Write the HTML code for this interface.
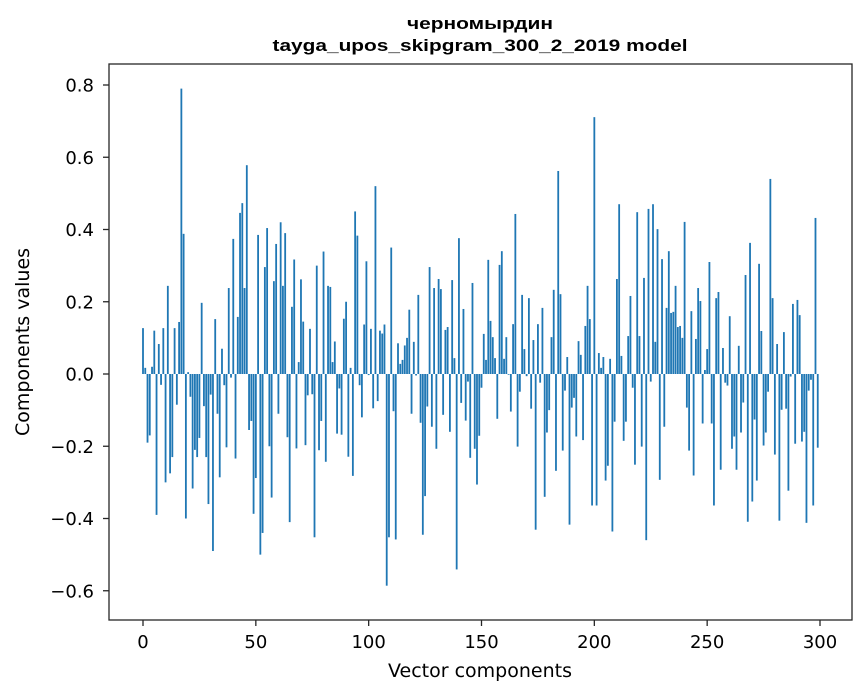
<!DOCTYPE html>
<html><head><meta charset="utf-8">
<style>
html,body{margin:0;padding:0;background:#fff;}
svg{display:block;font-family:"DejaVu Sans","Liberation Sans",sans-serif;}
.ttl{font-family:"Liberation Sans","DejaVu Sans",sans-serif;font-weight:bold;}
</style></head>
<body>
<svg id="chart" width="867" height="696" viewBox="0 0 867 696" xmlns="http://www.w3.org/2000/svg">
<text class="ttl" x="480" y="29" text-anchor="middle" font-size="17" textLength="146" lengthAdjust="spacingAndGlyphs">черномырдин</text>
<text class="ttl" x="480" y="51" text-anchor="middle" font-size="17" textLength="415" lengthAdjust="spacingAndGlyphs">tayga_upos_skipgram_300_2_2019 model</text>
<g id="bars"></g>
<g id="yaxis"></g>
<g id="xaxis"></g>
<rect x="109" y="64" width="743" height="556" fill="none" stroke="#262626" stroke-width="1.3"/>
<text x="480" y="677" text-anchor="middle" font-size="19">Vector components</text>
<text transform="translate(29,342) rotate(-90)" text-anchor="middle" font-size="19">Components values</text>
</svg>
<script>
const values = [
0.127,0.017,-0.19,-0.17,0.02,0.12,-0.39,0.083,-0.03,0.127,
-0.30,0.244,-0.275,-0.23,0.127,-0.085,0.144,0.79,0.388,-0.40,
0.005,-0.063,-0.317,-0.21,-0.23,-0.177,0.197,-0.089,-0.23,-0.36,
-0.057,-0.49,0.152,-0.11,-0.286,0.07,-0.031,-0.203,0.238,-0.01,
0.374,-0.234,0.158,0.446,0.473,0.238,0.578,-0.155,-0.13,-0.387,
-0.288,0.385,-0.50,-0.44,0.296,0.404,-0.20,-0.342,0.257,0.36,
-0.11,0.42,0.244,0.39,-0.175,-0.41,0.186,0.317,-0.206,0.033,
0.262,0.145,-0.197,-0.059,0.125,-0.056,-0.452,0.30,-0.211,-0.13,
0.339,-0.243,0.244,0.241,0.033,0.09,-0.165,-0.04,-0.168,0.153,
0.2,-0.229,0.017,-0.282,0.45,0.383,-0.031,-0.12,0.137,0.312,
-0.003,0.125,-0.095,0.52,-0.075,0.12,0.112,0.137,-0.586,-0.452,
0.35,-0.103,-0.458,0.085,0.028,0.039,0.079,0.10,0.178,-0.11,
0.089,-0.004,0.219,-0.135,-0.445,-0.338,-0.09,0.296,-0.146,0.238,
-0.207,0.263,0.235,-0.113,0.122,0.13,-0.16,0.26,0.044,-0.541,
0.376,-0.08,0.18,-0.129,-0.021,-0.232,0.252,-0.207,-0.306,-0.171,
-0.038,0.111,0.039,0.316,0.147,0.102,0.044,-0.124,0.302,0.34,
0.042,0.102,-0.002,-0.104,0.138,0.443,-0.201,-0.049,0.219,0.069,
-0.006,0.21,-0.096,0.094,-0.431,0.138,-0.024,0.183,-0.34,
-0.162,-0.1,0.102,0.233,-0.268,0.562,0.221,-0.212,-0.046,0.047,
-0.417,-0.093,-0.066,-0.173,0.091,0.053,-0.183,0.133,0.244,0.152,
-0.364,0.711,-0.364,0.058,0.017,0.047,-0.295,-0.254,0.042,-0.436,
-0.132,0.263,0.47,0.05,-0.185,-0.132,0.105,0.216,-0.038,-0.251,
0.448,0.105,-0.201,0.266,-0.46,0.457,-0.021,0.47,0.089,0.401,
-0.293,0.318,-0.146,0.183,0.34,0.169,0.172,0.244,0.13,0.133,
0.1,
0.421,-0.093,-0.212,0.174,-0.281,0.097,0.238,0.202,-0.137,0.011,
0.069,0.31,-0.137,-0.364,0.21,0.227,-0.265,0.072,-0.024,-0.032,
0.16,-0.207,-0.173,-0.265,0.078,-0.162,-0.079,0.274,-0.409,0.363,
-0.353,-0.126,-0.295,0.305,0.119,-0.198,-0.162,-0.049,0.54,0.21,
-0.223,0.083,-0.406,-0.099,0.116,-0.096,-0.323,-0.007,0.194,-0.193,
0.205,0.163,-0.187,-0.16,-0.412,-0.046,-0.016,-0.364,0.432,-0.204
];
const yTicks = [-0.6,-0.4,-0.2,0.0,0.2,0.4,0.6,0.8];
const xTicks = [0,50,100,150,200,250,300];

const NS = "http://www.w3.org/2000/svg";
function xs(i){ return 143 + i * (677/300); }
function ys(v){ return 374 - v * 361.25; }
const barW = 0.8 * (677/300);

const gb = document.getElementById('bars');
values.forEach(function(v, i){
  const r = document.createElementNS(NS,'rect');
  
  
  const y0 = ys(0), y1 = ys(v);
  r.setAttribute('x', xs(i) - barW/2);
  r.setAttribute('y', Math.min(y0,y1));
  r.setAttribute('width', barW);
  r.setAttribute('height', Math.max(Math.abs(y1-y0), 0.3));
  r.setAttribute('fill', '#1f77b4');
  gb.appendChild(r);
});

const gy = document.getElementById('yaxis');
yTicks.forEach(function(t){
  const y = ys(t);
  const l = document.createElementNS(NS,'line');
  
  
  l.setAttribute('x1',103); l.setAttribute('x2',109);
  l.setAttribute('y1',y); l.setAttribute('y2',y);
  l.setAttribute('stroke','#262626');
  l.setAttribute('stroke-width','1.3');
  gy.appendChild(l);
  const tx = document.createElementNS(NS,'text');
  
  
  tx.setAttribute('x',94); tx.setAttribute('y',y+6.5);
  tx.setAttribute('text-anchor','end');
  tx.setAttribute('font-size','18');
  tx.textContent = (t < 0 ? '\u2212' : '') + Math.abs(t).toFixed(1);
  gy.appendChild(tx);
});

const gx = document.getElementById('xaxis');
xTicks.forEach(function(t){
  const x = xs(t);
  const l = document.createElementNS(NS,'line');
  
  
  l.setAttribute('x1',x); l.setAttribute('x2',x);
  l.setAttribute('y1',620); l.setAttribute('y2',626);
  l.setAttribute('stroke','#262626');
  l.setAttribute('stroke-width','1.3');
  gx.appendChild(l);
  const tx = document.createElementNS(NS,'text');
  
  
  tx.setAttribute('x',x); tx.setAttribute('y',648);
  tx.setAttribute('text-anchor','middle');
  tx.setAttribute('font-size','18');
  tx.textContent = String(t);
  gx.appendChild(tx);
});
</script>
</body></html>
